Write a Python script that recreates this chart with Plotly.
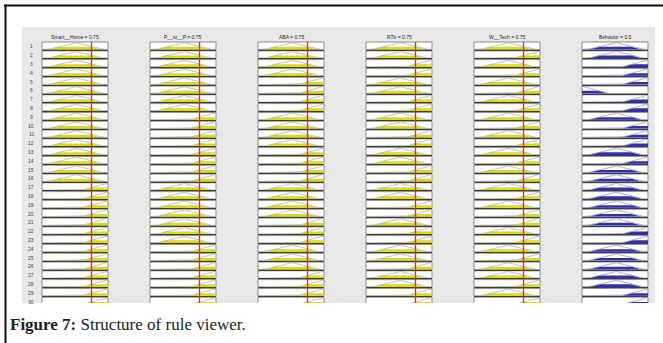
import numpy as np
import plotly.graph_objects as go

# ---- data -------------------------------------------------------------
input_names = ["Smart__Home", "P__to__P", "ABA", "RTb", "W__Tech"]
input_values = [0.75, 0.75, 0.75, 0.75, 0.75]
output_name = "Behavior"
output_value = 0.5

# membership functions on [0, 1] given as breakpoints (L = low, M = medium, H = high)
mf_x = {"L": [0.0, 0.4, 1.0], "M": [0.0, 0.1, 0.5, 0.9, 1.0], "H": [0.0, 0.6, 1.0]}
mf_y = {"L": [1.0, 0.0, 0.0], "M": [0.0, 0.0, 1.0, 0.0, 0.0], "H": [0.0, 0.0, 1.0]}

# antecedent / consequent term of every rule
smart_home = list("MMMMMMMMMMMMMMMM" + "HHHHHHHHHHHHHH")
p_to_p = list("MMMMMMMMHHHHHHHH" + "MMMMMMM" + "HHHHHHH")
aba = list("MMMMHHHHMMMMHHHH" + "MMMMHHHMMMHHHH")
rtb = list("MMHHMMHHMMHHMMHH" + "MMHHMHHMMHMMHH")
w_tech = list("MHMHMHMHMHMHMHMH" + "MHMHHMHMHMMHMH")
behavior = list("MMHHHLHHMHHHMHMMMMMMMHHMMMMMHH")

caption_bold = "Figure 7:"
caption_text = "Structure of rule viewer."

# ---- geometry (pixels of the 663 x 343 page) --------------------------
W, H = 663, 343
col_left0, col_step, col_w = 42, 108, 66
row_top0, row_step, row_h = 42, 8.8, 7.6
panel = (22, 27, 655, 303)


def px(x):
    return x / W


def py(y):
    return 1 - y / H


def mf(label, x):
    return np.interp(x, mf_x[label], mf_y[label])


columns = [smart_home, p_to_p, aba, rtb, w_tech, behavior]
n_rules = len(behavior)
x_grid = np.linspace(0, 1, 241)

fig = go.Figure()
shapes = [dict(type="rect", xref="paper", yref="paper",
               x0=px(panel[0]), x1=px(panel[2]), y0=py(panel[3]), y1=py(panel[1]),
               fillcolor="#e8e8e8", line=dict(width=0), layer="below")]
annotations = []
axes = {}

for r in range(n_rules):
    degrees = [float(mf(columns[c][r], input_values[c])) for c in range(5)]
    strength = min(degrees)
    top = row_top0 + r * row_step
    for c in range(6):
        n = r * 6 + c + 1
        sfx = "" if n == 1 else str(n)
        left = col_left0 + c * col_step
        term = columns[c][r]
        is_out = c == 5
        level = strength if is_out else degrees[c]
        full = mf(term, x_grid)
        clipped = np.minimum(full, level)
        fig.add_trace(go.Scatter(
            x=x_grid, y=clipped, mode="none", fill="tozeroy",
            fillcolor="#2f2fb6" if is_out else "#dcdc14",
            xaxis="x" + sfx, yaxis="y" + sfx, hoverinfo="skip", showlegend=False))
        fig.add_trace(go.Scatter(
            x=x_grid, y=full, mode="lines",
            line=dict(width=0.8, color="#9e9ec6" if is_out else "#b8b896"),
            xaxis="x" + sfx, yaxis="y" + sfx, hoverinfo="skip", showlegend=False))
        axes["xaxis" + sfx] = dict(
            domain=[px(left), px(left + col_w)], anchor="y" + sfx, range=[0, 1],
            showgrid=False, zeroline=False, showticklabels=False, ticks="",
            showline=True, linecolor="#3e3e3e", linewidth=1.4, fixedrange=True)
        axes["yaxis" + sfx] = dict(
            domain=[py(top + row_h), py(top)], anchor="x" + sfx, range=[-0.03, 1.05],
            showgrid=False, zeroline=False, showticklabels=False, ticks="",
            showline=False, fixedrange=True)
        shapes.append(dict(type="rect", xref="x" + sfx + " domain", yref="y" + sfx + " domain",
                           x0=0, x1=1, y0=0, y1=1, fillcolor="white",
                           line=dict(color="#8a8a8a", width=1), layer="below"))
    annotations.append(dict(x=px(31), y=py(top + row_h / 2 + 0.6), xref="paper", yref="paper",
                            text=str(r + 1), showarrow=False, xanchor="center", yanchor="middle",
                            font=dict(family="Liberation Sans", size=5, color="#444444")))

# column titles and input markers
titles = [f"{nm} = {v:g}" for nm, v in zip(input_names, input_values)] + [f"{output_name} = {output_value:g}"]
for c, t in enumerate(titles):
    left = col_left0 + c * col_step
    annotations.append(dict(x=px(left + col_w / 2), y=py(37), xref="paper", yref="paper",
                            text=t, showarrow=False, xanchor="center", yanchor="middle",
                            font=dict(family="Liberation Sans", size=5, color="#222222")))
for c, v in enumerate(input_values):
    n = c + 1
    sfx = "" if n == 1 else str(n)
    shapes.append(dict(type="line", xref="x" + sfx, yref="paper", x0=v, x1=v,
                       y0=py(row_top0), y1=py(panel[3]),
                       line=dict(color="#ff1e1e", width=1.3), layer="above"))

# page below the viewer and the frame
shapes.append(dict(type="rect", xref="paper", yref="paper", x0=px(panel[0]), x1=1,
                   y0=0, y1=py(panel[3]), fillcolor="white", line=dict(width=0), layer="above"))
shapes.append(dict(type="line", xref="paper", yref="paper", x0=px(4), x1=1, y0=py(5.5), y1=py(5.5),
                   line=dict(color="#111111", width=2), layer="above"))
shapes.append(dict(type="line", xref="paper", yref="paper", x0=px(5.5), x1=px(5.5), y0=0, y1=py(4.5),
                   line=dict(color="#111111", width=2), layer="above"))

annotations.append(dict(x=px(8), y=py(324), xref="paper", yref="paper",
                        text=f"<b>{caption_bold}</b> {caption_text}", showarrow=False,
                        xanchor="left", yanchor="middle",
                        font=dict(family="Liberation Serif", size=17, color="#1c1c1c")))

fig.update_layout(
    width=W, height=H, margin=dict(l=0, r=0, t=0, b=0),
    paper_bgcolor="white", plot_bgcolor="rgba(0,0,0,0)",
    showlegend=False, shapes=shapes, annotations=annotations, **axes)

fig.write_html("out.html", config={"displayModeBar": False})
